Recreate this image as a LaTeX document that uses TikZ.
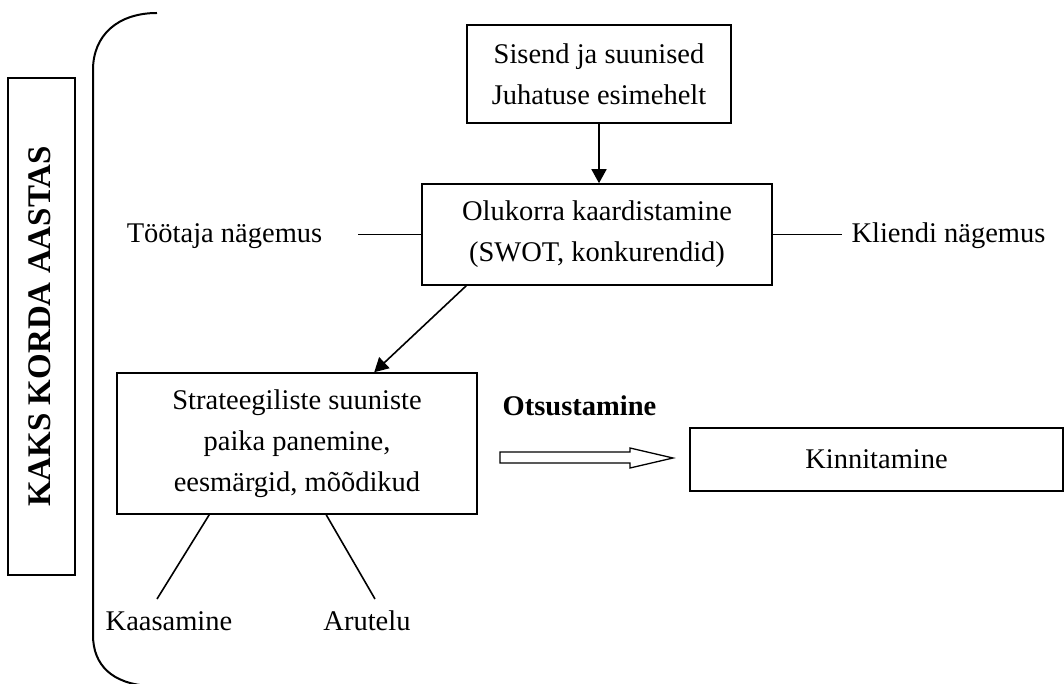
\documentclass[tikz,border=0pt]{standalone}
\usepackage{fontspec}
\setmainfont{Liberation Serif}
\usetikzlibrary{arrows.meta}
\begin{document}
\begin{tikzpicture}[x=1pt,y=-1pt,
  txt/.style={inner sep=0pt, align=center, font=\fontsize{28.5}{41}\selectfont},
  box/.style={txt, draw, line width=1.6pt},
  ln/.style={line width=1.6pt},
  arr/.style={ln, -{Triangle[length=14pt,width=15pt]}}]
\useasboundingbox (0,0) rectangle (1064,684);
% bracket
\draw[line width=2pt] (157,13) .. controls (118,13) and (93,35) .. (93,70) -- (93,635) .. controls (93,665) and (112,684) .. (150,686);
% left vertical box
\node[draw, line width=1.6pt, minimum width=67, minimum height=497, inner sep=0pt] (lb) at (41.5,326.5) {};
\node[rotate=90, inner sep=0pt, font=\bfseries\fontsize{33}{40}\selectfont] (lbt) at (40,326.5) {KAKS KORDA AASTAS};
% boxes
\node[box, minimum width=264, minimum height=98] (top) at (599,74) {Sisend ja suunised\\Juhatuse esimehelt};
\node[box, minimum width=350, minimum height=101] (mid) at (597,234.5) {Olukorra kaardistamine\\(SWOT, konkurendid)};
\node[box, minimum width=360, minimum height=141] (strat) at (297,443.5) {Strateegiliste suuniste\\paika panemine,\\eesmärgid, mõõdikud};
\node[box, minimum width=373, minimum height=63] (kinn) at (876.5,459.5) {Kinnitamine};
% labels
\node[txt, anchor=base] (toot) at (224.5,243) {Töötaja nägemus};
\node[txt, anchor=base] (klie) at (948.5,243) {Kliendi nägemus};
\node[txt, anchor=base, font=\bfseries\fontsize{28.5}{41}\selectfont] (otsu) at (579.5,415) {Otsustamine};
\node[txt, anchor=base] (kaas) at (169,630) {Kaasamine};
\node[txt, anchor=base] (arut) at (367,630) {Arutelu};
% connectors
\draw[arr] (top.south) -- (top.south |- mid.north);
\draw[arr] ([xshift=45pt]mid.south west) -- ([xshift=258pt]strat.north west);
\coordinate (tl) at (358,234.5);
\coordinate (kl) at (842,234.5);
\draw[ln] (tl) -- (mid.west);
\draw[ln] (mid.east) -- (kl);
\coordinate (k1) at (157,599);
\coordinate (a1) at (375,599);
\draw[ln] ([xshift=93pt]strat.south west) -- (k1);
\draw[ln] ([xshift=210pt]strat.south west) -- (a1);
% hollow arrow
\draw[line width=1.3pt] (500,452) -- (630,452) -- (630,448) -- (673,458) -- (630,468) -- (630,463) -- (500,463) -- cycle;
\end{tikzpicture}
\end{document}
